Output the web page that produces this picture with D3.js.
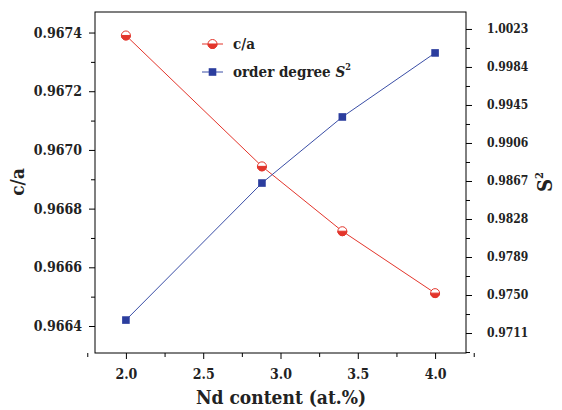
<!DOCTYPE html>
<html>
<head>
<meta charset="utf-8">
<script src="https://cdn.jsdelivr.net/npm/d3@7"></script>
<style>
  body { margin: 0; background: #fff; }
  .axis path, .axis line { stroke: #000; }
</style>
</head>
<body>
<svg width="562" height="410"></svg>
<script>
// data
var ndContent = [2.0, 2.88, 3.4, 4.0];
var ratioCA = [0.96739, 0.966944, 0.966723, 0.966512];
var orderS2 = [0.97243, 0.98649, 0.99327, 0.99984];
var leftTicks = [0.9664, 0.9666, 0.9668, 0.9670, 0.9672, 0.9674];
var rightTicks = [0.9711, 0.9750, 0.9789, 0.9828, 0.9867, 0.9906, 0.9945, 0.9984, 1.0023];
var xTicks = [2.0, 2.5, 3.0, 3.5, 4.0];

var FONT = "'DejaVu Serif Condensed', 'DejaVu Serif', serif";
var red = "#e3352b", blue = "#3a4ea6";
var margin = {top: 12, right: 96, bottom: 57, left: 95};
var width = 562 - margin.left - margin.right;
var height = 410 - margin.top - margin.bottom;

var svg = d3.select("svg");
var g = svg.append("g").attr("transform", "translate(" + margin.left + "," + margin.top + ")");

var x = d3.scaleLinear().domain([1.8, 4.2]).range([0, width]);
var yL = d3.scaleLinear().domain([0.966308, 0.96747]).range([height, 0]);
var yR = d3.scaleLinear().domain([0.96905, 1.00404]).range([height, 0]);

// frame
g.append("rect").attr("width", width).attr("height", height)
  .attr("fill", "none").attr("stroke", "#000").attr("stroke-width", 1);

function minor(t) {
  var out = [];
  for (var i = 0; i < t.length - 1; i++) out.push((t[i] + t[i + 1]) / 2);
  out.push(t[t.length - 1] + (t[1] - t[0]) / 2);
  out.unshift(t[0] - (t[1] - t[0]) / 2);
  return out;
}
function styleLabels(size) {
  return function(a) {
    a.select(".domain").remove();
    a.attr("font-family", null);
    a.selectAll("text").style("font-family", FONT).style("font-weight", "bold").style("font-stretch", "condensed")
      .attr("font-size", size).attr("fill", "#222");
  };
}

// bottom axis
g.append("g").attr("class", "axis").attr("transform", "translate(0," + height + ")")
  .call(d3.axisBottom(x).tickValues(minor(xTicks)).tickSize(4).tickFormat(""))
  .call(function(a) { a.select(".domain").remove(); });
g.append("g").attr("class", "axis").attr("transform", "translate(0," + height + ")")
  .call(d3.axisBottom(x).tickValues(xTicks).tickSize(6).tickPadding(10).tickFormat(d3.format(".1f")))
  .call(styleLabels(14));

// left axis
g.append("g").attr("class", "axis")
  .call(d3.axisLeft(yL).tickValues(minor(leftTicks).filter(function(v) { return v > yL.domain()[0] && v < yL.domain()[1]; })).tickSize(4).tickFormat(""))
  .call(function(a) { a.select(".domain").remove(); });
g.append("g").attr("class", "axis")
  .call(d3.axisLeft(yL).tickValues(leftTicks).tickSize(6).tickPadding(7).tickFormat(d3.format(".4f")))
  .call(styleLabels(14));

// right axis
g.append("g").attr("class", "axis").attr("transform", "translate(" + width + ",0)")
  .call(d3.axisRight(yR).tickValues(minor(rightTicks).filter(function(v) { return v > yR.domain()[0] && v < yR.domain()[1]; })).tickSize(4).tickFormat(""))
  .call(function(a) { a.select(".domain").remove(); });
g.append("g").attr("class", "axis").attr("transform", "translate(" + width + ",0)")
  .call(d3.axisRight(yR).tickValues(rightTicks).tickSize(6).tickPadding(15).tickFormat(d3.format(".4f")))
  .call(styleLabels(12));

function title(sel) {
  return sel.style("font-family", FONT).style("font-weight", "bold").style("font-stretch", "condensed").attr("fill", "#222");
}

// axis titles
svg.append("text").attr("x", 281).attr("y", 404).attr("text-anchor", "middle")
  .attr("font-size", 19).call(title).text("Nd content (at.%)");
svg.append("text").attr("transform", "translate(24,182) rotate(-90)").attr("text-anchor", "middle")
  .attr("font-size", 19).call(title).text("c/a");
var s2 = svg.append("text").attr("transform", "translate(552,182) rotate(-90)").attr("text-anchor", "middle")
  .attr("font-size", 20).call(title);
s2.append("tspan").text("S");
s2.append("tspan").attr("dy", -9).attr("font-size", 11).text("2");

// lines
var pairsCA = ndContent.map(function(d, i) { return [d, ratioCA[i]]; });
var pairsS2 = ndContent.map(function(d, i) { return [d, orderS2[i]]; });

g.append("path").datum(pairsCA).attr("fill", "none").attr("stroke", red).attr("stroke-width", 1)
  .attr("d", d3.line().x(function(d) { return x(d[0]); }).y(function(d) { return yL(d[1]); }));
g.append("path").datum(pairsS2).attr("fill", "none").attr("stroke", blue).attr("stroke-width", 1)
  .attr("d", d3.line().x(function(d) { return x(d[0]); }).y(function(d) { return yR(d[1]); }));

// half-filled circle marker
function circleMarker(sel, cx, cy) {
  var r = 4.5;
  sel.append("circle").attr("cx", cx).attr("cy", cy).attr("r", r).attr("fill", "#fff").attr("stroke", red).attr("stroke-width", 1);
  sel.append("path")
    .attr("d", "M" + (cx - r) + "," + cy + " A" + r + "," + r + " 0 0 0 " + (cx + r) + "," + cy + " Z")
    .attr("fill", red).attr("stroke", red).attr("stroke-width", 1);
}
function squareMarker(sel, cx, cy) {
  sel.append("rect").attr("x", cx - 3.8).attr("y", cy - 3.8).attr("width", 7.6).attr("height", 7.6)
    .attr("fill", "#2b3d9e");
}

pairsCA.forEach(function(d) { circleMarker(g, x(d[0]), yL(d[1])); });
pairsS2.forEach(function(d) { squareMarker(g, x(d[0]), yR(d[1])); });

// legend
var lg = svg.append("g");
lg.append("line").attr("x1", 202).attr("x2", 223).attr("y1", 44).attr("y2", 44).attr("stroke", red);
circleMarker(lg, 212.5, 44);
lg.append("text").attr("x", 233).attr("y", 49).attr("font-size", 15).call(title).text("c/a");
lg.append("line").attr("x1", 202).attr("x2", 223).attr("y1", 72).attr("y2", 72).attr("stroke", blue);
squareMarker(lg, 212.5, 72);
var lt = lg.append("text").attr("x", 233).attr("y", 77).attr("font-size", 15).call(title);
lt.append("tspan").text("order degree ");
lt.append("tspan").attr("font-style", "italic").text("S");
lt.append("tspan").attr("dy", -7).attr("font-size", 9).text("2");
</script>
</body>
</html>
